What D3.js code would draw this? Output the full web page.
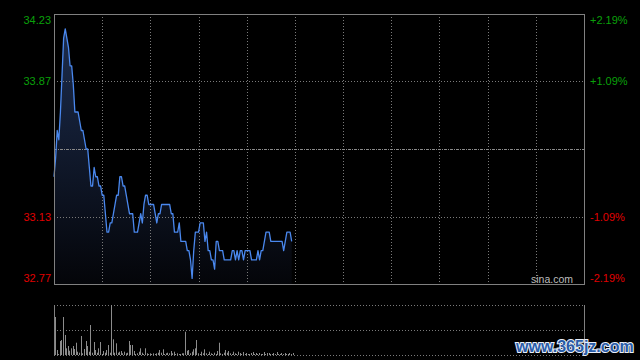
<!DOCTYPE html>
<html><head><meta charset="utf-8">
<script src="https://cdn.jsdelivr.net/npm/d3@7/dist/d3.min.js"></script>
<style>html,body{margin:0;padding:0;background:#000;} svg{display:block;}</style>
</head><body><svg id="c" width="640" height="360"></svg>
<script>
// ---- data ----
const prevClose = 33.50;
const priceTicks = [34.23, 33.87, 33.13, 32.77];
const pctLabels = ["+2.19%", "+1.09%", "-1.09%", "-2.19%"];
const gridMinutes = [30, 60, 90, 120, 150, 180, 210, 240, 270, 300];
const totalMinutes = 330;
const prices = [
 33.35,33.45,33.60,33.55,33.70,33.90,34.10,34.15,34.10,34.05,
 33.95,33.95,33.85,33.70,33.70,33.70,33.65,33.60,33.60,33.55,
 33.50,33.50,33.40,33.30,33.30,33.40,33.35,33.35,33.30,33.30,
 33.25,33.25,33.15,33.05,33.05,33.10,33.10,33.15,33.20,33.25,
 33.25,33.35,33.35,33.30,33.30,33.25,33.20,33.15,33.15,33.15,
 33.05,33.05,33.05,33.10,33.15,33.10,33.20,33.25,33.25,33.20,
 33.20,33.20,33.20,33.15,33.10,33.15,33.15,33.20,33.20,33.20,
 33.20,33.20,33.20,33.15,33.15,33.05,33.05,33.05,33.10,33.00,
 33.00,33.00,33.00,32.95,32.95,32.90,32.80,32.95,33.05,33.05,
 33.05,33.10,33.10,33.10,33.00,33.05,32.95,32.95,32.90,32.90,
 32.85,33.00,33.00,32.95,32.95,32.95,32.90,32.90,32.90,32.90,
 32.90,32.95,32.95,32.90,32.95,32.90,32.95,32.95,32.90,32.95,
 32.95,32.95,32.95,32.90,32.90,32.90,32.90,32.95,32.90,32.95,
 32.95,33.00,33.05,33.05,33.05,33.00,33.00,33.00,33.00,33.00,
 33.00,33.00,33.00,32.95,33.00,33.05,33.05,33.05,33.00
];
const volumes = [
 38,5,1,14,15,38,20,6.7,9,4.3,
 6.7,9,6,12.3,3.3,2.3,19,1.7,6,14,
 9,3.3,30,2.3,13,5,2.3,6.7,13,1,
 4,2.3,5,10,2.3,50,15.7,2.3,11.7,2.3,
 3.3,4,1.7,3.3,1.7,2.3,14,10,10,4,
 1,1.7,3.3,6.7,2.3,1,6.7,1.7,1,1.7,
 1,1.7,1,1.7,2.3,5,2.3,5.7,1,1.7,
 2.3,1.7,4,1.7,3.3,1,1.7,1,1,1.7,
 1.7,23.3,4.3,5,1.7,3.3,5.7,6.7,15,1.7,
 1,3.3,1.7,5.7,1.7,1,3.3,1.7,1,2.3,
 1,4,12.3,1.7,1,2.3,5,2.3,4,1.7,
 1,3.3,1.7,1,3.3,2,1,3,1,2,
 1,1,2,3,1,2,1,2,1,1,
 3,1,2,2,1,1,2,1,3,1,
 1,2,1,2,1,1,2,1,2
];
const volMax = 50;

// ---- drawing ----
const W = 640, H = 360;
const L = 54, R = 584, T = 14, B = 284;
const vT = 305, vM = 330, vB = 355;
const font = '"Liberation Sans", Arial, Helvetica, sans-serif';
const gridColor = '#7a7a7a';
const green = '#0aa00a', red = '#e00000';

const svg = d3.select('#c');
svg.append('rect').attr('width', W).attr('height', H).attr('fill', '#000');

const x = d3.scaleLinear().domain([0, totalMinutes]).range([L, R]);
const y = d3.scaleLinear().domain([32.77, 34.23]).range([B, T]);
const yv = d3.scaleLinear().domain([0, volMax]).range([vB, vT]);

const defs = svg.append('defs');
const grad = defs.append('linearGradient').attr('id', 'fillGrad')
  .attr('gradientUnits', 'userSpaceOnUse').attr('x1', 0).attr('x2', 0).attr('y1', T).attr('y2', B);
grad.append('stop').attr('offset', 0).attr('stop-color', '#1e2f52');
grad.append('stop').attr('offset', 1).attr('stop-color', '#040509');

// area + line
const area = d3.area().x((d, i) => x(i)).y0(B).y1(d => y(d));
svg.append('path').datum(prices).attr('d', area).attr('fill', 'url(#fillGrad)');

// vertical grid
const vg = svg.append('g').attr('class', 'vgrid');
vg.selectAll('line').data(gridMinutes).join('line')
  .attr('x1', d => Math.round(x(d)) + 0.5).attr('x2', d => Math.round(x(d)) + 0.5)
  .attr('y1', T).attr('y2', B + 3)
  .attr('stroke', gridColor).attr('stroke-dasharray', '1,2');

// horizontal grid
const hg = svg.append('g');
hg.selectAll('line').data([priceTicks[1], priceTicks[2]]).join('line')
  .attr('x1', L).attr('x2', R)
  .attr('y1', d => Math.round(y(d)) + 0.5).attr('y2', d => Math.round(y(d)) + 0.5)
  .attr('stroke', gridColor).attr('stroke-dasharray', '1,2');
svg.append('line').attr('x1', L).attr('x2', R)
  .attr('y1', Math.round(y(prevClose)) + 0.5).attr('y2', Math.round(y(prevClose)) + 0.5)
  .attr('stroke', '#8a8a8a').attr('stroke-dasharray', '3,1,1,1');

// price line
const line = d3.line().x((d, i) => x(i)).y(d => y(d));
svg.append('path').datum(prices).attr('d', line)
  .attr('fill', 'none').attr('stroke', '#4a88ee').attr('stroke-width', 1.3)
  .attr('stroke-linejoin', 'round');

// main border
svg.append('rect').attr('x', L + 0.5).attr('y', T + 0.5).attr('width', R - L).attr('height', B - T)
  .attr('fill', 'none').attr('stroke', '#808080');

// axes labels
const leftAxis = d3.axisLeft(y).tickValues(priceTicks).tickFormat(d3.format('.2f')).tickSize(0).tickPadding(3);
const gl = svg.append('g').attr('transform', `translate(${L},0)`).call(leftAxis);
const rightAxis = d3.axisRight(y).tickValues(priceTicks).tickFormat((d, i) => pctLabels[i]).tickSize(0).tickPadding(6);
const gr = svg.append('g').attr('transform', `translate(${R},0)`).call(rightAxis);
[gl, gr].forEach(g => {
  g.select('.domain').remove();
  g.selectAll('text')
    .attr('font-family', font).attr('font-size', 11)
    .attr('fill', d => d > prevClose ? green : red)
    .attr('dy', (d, i) => i === 0 ? '0.85em' : (i === priceTicks.length - 1 ? '-0.2em' : '0.32em'));
  g.attr('font-family', null).attr('font-size', null);
});

// sina.com
svg.append('text').attr('x', 573).attr('y', 283).attr('text-anchor', 'end')
  .attr('font-family', font).attr('font-size', 10.5).attr('fill', '#bdbdbd').text('sina.com');

// volume panel
svg.append('g').selectAll('line').data([vT, vM, vB]).join('line')
  .attr('x1', L).attr('x2', R).attr('y1', d => d + 0.5).attr('y2', d => d + 0.5)
  .attr('stroke', gridColor).attr('stroke-dasharray', '1,2');
svg.append('line').attr('x1', L + 0.5).attr('x2', L + 0.5).attr('y1', vT).attr('y2', vB + 1).attr('stroke', '#808080');
svg.append('line').attr('x1', R + 0.5).attr('x2', R + 0.5).attr('y1', vT).attr('y2', vB + 1).attr('stroke', '#808080');

svg.append('g').selectAll('rect').data(volumes).join('rect')
  .attr('x', (d, i) => Math.round(x(i)) + 1)
  .attr('y', d => yv(d))
  .attr('width', 1)
  .attr('height', d => vB - yv(d))
  .attr('fill', '#8c8c8c');

// watermark
svg.append('text').attr('x', 516).attr('y', 352)
  .attr('font-family', font).attr('font-size', 16).attr('font-weight', 'bold')
  .attr('fill', '#2a5ca8').attr('stroke', '#e8eef8').attr('stroke-width', 2)
  .attr('paint-order', 'stroke').text('www.365jz.com');
</script></body></html>
